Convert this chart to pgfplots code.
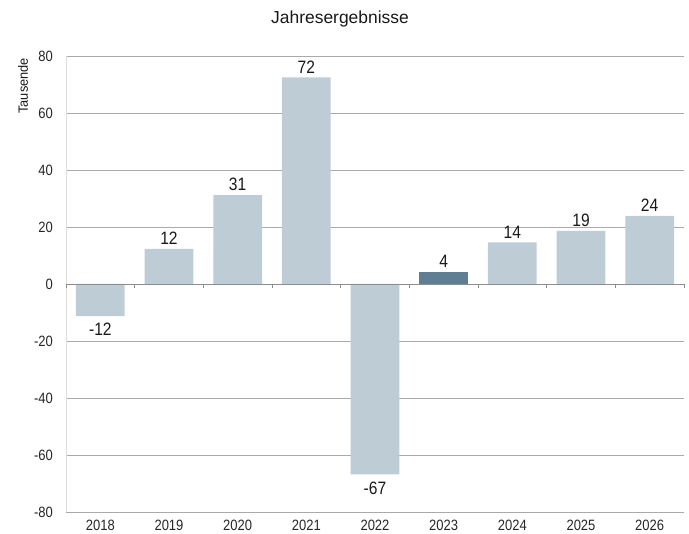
\documentclass[border=0pt]{standalone}
\usepackage{pgfplots}
\pgfplotsset{compat=1.18}
\usepackage{fontspec}
\setmainfont{Liberation Sans}
\newfontfamily\narrowfont[FakeStretch=0.87]{Liberation Sans}
\newfontfamily\ylabfont[FakeStretch=0.95]{Liberation Sans}
\definecolor{barlight}{RGB}{190,204,214}
\definecolor{bardark}{RGB}{95,126,148}
\definecolor{gridc}{RGB}{170,170,170}
\definecolor{zeroc}{RGB}{140,140,140}
\definecolor{leftc}{RGB}{220,220,220}
\begin{document}
\begin{tikzpicture}
\begin{axis}[
  name=ax,
  scale only axis,
  width=618bp, height=456bp,
  xmin=-0.5, xmax=8.5,
  ymin=-80, ymax=80,
  ytick={-80,-60,...,80},
  xtick={0,...,8},
  xticklabels={2018,2019,2020,2021,2022,2023,2024,2025,2026},
  major tick length=0pt,
  /pgf/number format/assume math mode=true,
  ticklabel style={font=\narrowfont\fontsize{15}{17}\selectfont, text=black!85},
  yticklabel style={inner sep=0pt, xshift=-13bp},
  xticklabel style={inner sep=0pt, yshift=-8bp},
  ymajorgrids,
  grid style={draw=gridc, line width=0.8pt},
  axis x line*=bottom,
  axis y line*=left,
  x axis line style={draw=none},
  y axis line style={draw=leftc, line width=0.8pt},
  clip=false,
  nodes near coords,
  point meta=explicit symbolic,
  every node near coord/.append style={font=\narrowfont\fontsize{18}{20}\selectfont, text=black!90, inner sep=4bp},
]
\addplot[ybar, bar width=0.71, bar shift=0pt, fill=barlight, draw=none,
  nodes near coords style={anchor=south}]
  table[meta=lab] {
x y lab
1 12.3 12
2 31.2 31
3 72.5 72
6 14.6 14
7 18.6 19
8 23.9 24
};
\addplot[ybar, bar width=0.71, bar shift=0pt, fill=barlight, draw=none,
  nodes near coords style={anchor=north, yshift=-3bp}]
  table[meta=lab] {
x y lab
0 -11.3 -12
4 -66.8 -67
};
\addplot[ybar, bar width=0.71, bar shift=0pt, fill=bardark, draw=none,
  nodes near coords style={anchor=south}]
  table[meta=lab] {
x y lab
5 4.2 4
};
\draw[zeroc, line width=0.8pt] (axis cs:-0.5,0) -- (axis cs:8.5,0);
\pgfplotsinvokeforeach{-0.5,0.5,1.5,2.5,3.5,4.5,5.5,6.5,7.5,8.5}{
  \draw[zeroc, line width=0.8pt] (axis cs:#1,0) -- ([yshift=-4bp]axis cs:#1,0);
}
\end{axis}
\node[font=\fontsize{17.5}{21}\selectfont, text=black!90] at ([xshift=274bp,yshift=37bp]ax.north west) {Jahresergebnisse};
\node[rotate=90, anchor=east, inner sep=0pt, font=\ylabfont\fontsize{13.5}{16}\selectfont, text=black!90] at ([xshift=-43bp,yshift=-2bp]ax.north west) {Tausende};
\pgfresetboundingbox
\path[use as bounding box] ([xshift=-66bp,yshift=-22bp]ax.south west) rectangle ([xshift=5bp,yshift=56bp]ax.north east);
\end{tikzpicture}
\end{document}
